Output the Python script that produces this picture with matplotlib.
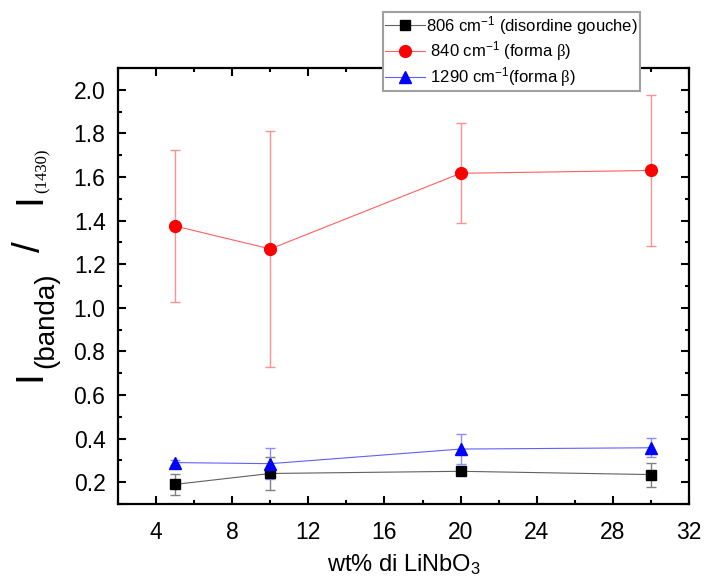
import matplotlib
matplotlib.use("Agg")
import matplotlib.pyplot as plt
from matplotlib.ticker import MultipleLocator, FormatStrFormatter

plt.rcParams['font.family'] = ['Liberation Sans', 'DejaVu Sans']
plt.rcParams['mathtext.fontset'] = 'custom'
plt.rcParams['mathtext.rm'] = 'Liberation Sans'
plt.rcParams['mathtext.it'] = 'Liberation Sans:italic'
plt.rcParams['mathtext.sf'] = 'Liberation Serif'
plt.rcParams['mathtext.default'] = 'regular'

# ---- data ----
wt = [5, 10, 20, 30]
i806 = [0.19, 0.24, 0.25, 0.235]
e806 = [0.048, 0.075, 0.015, 0.055]
i840 = [1.375, 1.27, 1.617, 1.63]
e840 = [0.347, 0.54, 0.23, 0.345]
i1290 = [0.29, 0.285, 0.352, 0.358]
e1290 = [0.01, 0.07, 0.07, 0.043]

labels = [r"806 cm$^{-1}$ (disordine gouche)",
          r" 840 cm$^{-1}$ (forma $\mathsf{\beta}$)",
          r" 1290 cm$^{-1}$(forma $\mathsf{\beta}$)"]
xticks = [4, 8, 12, 16, 20, 24, 28, 32]
yticks = [0.2, 0.4, 0.6, 0.8, 1.0, 1.2, 1.4, 1.6, 1.8, 2.0]

W, H = 705, 578
fig = plt.figure(figsize=(W / 100, H / 100), dpi=100)
ax = fig.add_axes([118 / W, 74 / H, 571 / W, 436 / H])

series = [
    (i806, e806, 's', '#000000', '#606060', '#808080', 7.5),
    (i840, e840, 'o', '#ff0000', '#ff6060', '#ff9090', 8.5),
    (i1290, e1290, '^', '#0000ff', '#6060ff', '#8c8cff', 9),
]
handles = []
for (y, e, m, mc, lc, ec, ms), lab in zip(series, labels):
    ax.errorbar(wt, y, yerr=e, fmt='none', ecolor=ec, elinewidth=1.0,
                capsize=3.5, capthick=1.0, zorder=2)
    h, = ax.plot(wt, y, color=lc, lw=0.8, marker=m, ms=ms,
                 markerfacecolor=mc, markeredgecolor=mc, zorder=3, label=lab)
    handles.append(h)

ax.set_xlim(2, 32)
ax.set_ylim(0.1, 2.1)
ax.set_xticks(xticks)
ax.set_yticks(yticks)
ax.xaxis.set_minor_locator(MultipleLocator(2))
ax.yaxis.set_minor_locator(MultipleLocator(0.1))
ax.yaxis.set_major_formatter(FormatStrFormatter('%.1f'))
ax.tick_params(which='both', direction='in', top=True, right=True,
               width=1.5, labelsize=16.5, colors='black')
ax.tick_params(which='major', length=6)
ax.tick_params(which='minor', length=3)
ax.tick_params(axis='x', pad=12)
ax.tick_params(axis='y', pad=9)
for s in ax.spines.values():
    s.set_linewidth(1.6)

ax.set_xlabel(r"wt% di LiNbO$_3$", fontsize=17, labelpad=6)

# y label composed of pieces (rotated)
kw = dict(rotation=90, rotation_mode='anchor', ha='left', va='baseline',
          transform=fig.transFigure)
fig.text(40 / W, 1 - 381 / H, "I", fontsize=28, **kw)
fig.text(53 / W, 1 - 368 / H, "(banda)", fontsize=20, **kw)
fig.text(40 / W, 1 - 252 / H, "/", fontsize=28, **kw)
fig.text(40 / W, 1 - 204 / H, "I", fontsize=28, **kw)
fig.text(47 / W, 1 - 193 / H, "(1430)", fontsize=12, family='Liberation Serif', **kw)

leg = fig.legend(handles=handles, labels=labels, loc='upper left',
                 bbox_to_anchor=(383 / W, 1 - 12 / H), bbox_transform=fig.transFigure,
                 borderaxespad=0, fontsize=12, frameon=True, fancybox=False,
                 framealpha=1, edgecolor='#a0a0a0', handlelength=2.4,
                 handletextpad=0.1, labelspacing=0.15, borderpad=0.1)
leg.get_frame().set_linewidth(1.5)

fig.savefig('out.png', dpi=100)
